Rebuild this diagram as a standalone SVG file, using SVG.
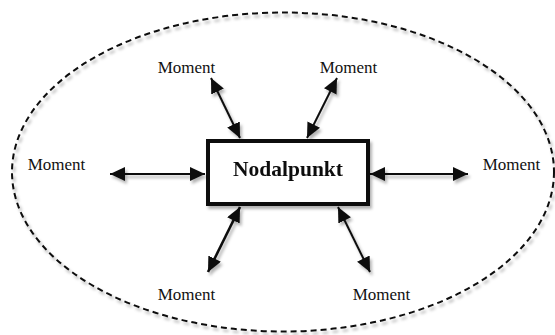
<svg xmlns="http://www.w3.org/2000/svg" width="555" height="335" viewBox="0 0 555 335">
<style>
.lbl{font-family:"Liberation Serif","Times New Roman",serif;font-size:17px;fill:#111;text-anchor:middle}
.title{font-family:"Liberation Serif","Times New Roman",serif;font-size:21.5px;font-weight:bold;fill:#111;text-anchor:middle}
.arr{stroke:#111;stroke-width:2;fill:none;marker-start:url(#ah);marker-end:url(#ah)}
</style>
<defs>
<filter id="sh" x="-20%" y="-20%" width="140%" height="140%">
<feDropShadow dx="2" dy="3" stdDeviation="1.6" flood-color="#000" flood-opacity="0.3"/>
</filter>
<marker id="ah" markerUnits="userSpaceOnUse" markerWidth="16" markerHeight="15" refX="15" refY="7" orient="auto-start-reverse" viewBox="0 0 16 15">
<path d="M0,0 L15,7 L0,14 z" fill="#111"/>
</marker>
</defs>
<rect width="555" height="335" fill="#fff"/>
<g id="boundary" filter="url(#sh)">
<ellipse cx="283" cy="172" rx="271" ry="159.5" fill="none" stroke="#111" stroke-width="2" stroke-dasharray="6 4"/>
</g>
<g id="connectors" filter="url(#sh)">
<line class="arr" x1="211" y1="78" x2="240" y2="138"/>
<line class="arr" x1="337" y1="78" x2="307" y2="138"/>
<line class="arr" x1="110" y1="174" x2="205" y2="174"/>
<line class="arr" x1="370" y1="174" x2="468" y2="174"/>
<line class="arr" x1="240" y1="207" x2="208" y2="272" style="stroke-width:2.6"/>
<line class="arr" x1="338" y1="207" x2="370" y2="272"/>
</g>
<g id="nodalpunkt" filter="url(#sh)">
<rect x="208" y="141" width="160" height="63" fill="#fff" stroke="#111" stroke-width="4"/>
<text class="title" x="288" y="176">Nodalpunkt</text>
</g>
<g id="moment-top-left"><text class="lbl" x="186.5" y="73">Moment</text></g>
<g id="moment-top-right"><text class="lbl" x="348.5" y="73">Moment</text></g>
<g id="moment-left"><text class="lbl" x="56.5" y="170">Moment</text></g>
<g id="moment-right"><text class="lbl" x="511.5" y="170">Moment</text></g>
<g id="moment-bottom-left"><text class="lbl" x="186.5" y="300">Moment</text></g>
<g id="moment-bottom-right"><text class="lbl" x="381.5" y="300">Moment</text></g>
</svg>
